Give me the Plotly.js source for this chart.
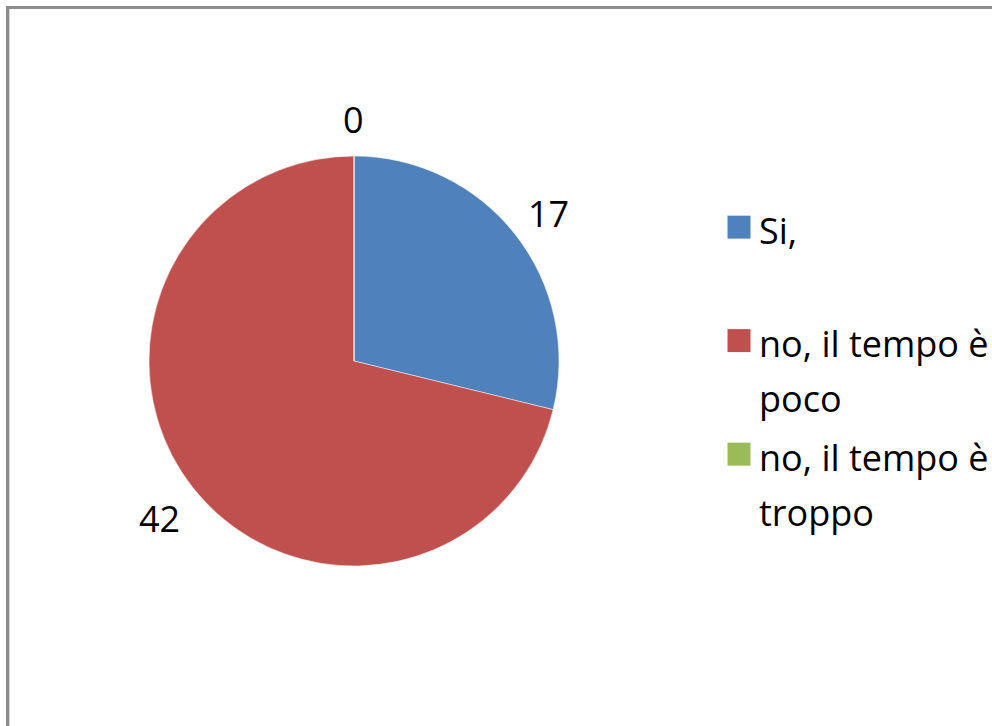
<!DOCTYPE html>
<html><head><meta charset="utf-8">
<script src="https://cdn.plot.ly/plotly-3.0.1.min.js"></script>
<style>html,body{margin:0;padding:0;background:#fff;} #chart{width:992px;height:726px;}</style>
</head><body><div id="chart"></div>
<script>
// ---- data ----
const categories = ["Si,", "no, il tempo è poco", "no, il tempo è troppo"];
const legendLines = [["Si,", " "], ["no, il tempo è", "poco"], ["no, il tempo è", "troppo"]];
const values = [17, 42, 0];
const colors = ["#4F81BD", "#C0504D", "#9BBB59"];

// ---- layout geometry ----
const W = 992, H = 726;
const cx = 354, cy = 361, r = 205;
const dom = {x: [(cx - r) / W, (cx + r) / W], y: [1 - (cy + r) / H, 1 - (cy - r) / H]};

const legendLabels = legendLines.map(lines => lines.map(s => '<span style="font-size:36px">' + s + '</span>').join('<br>'));

const total = values.reduce((a, b) => a + b, 0);
let cum = 0;
const annotations = values.map((v, i) => {
  const mid = (cum + v / 2) / total * 2 * Math.PI; cum += v;
  const d = r + 42;
  return {x: (cx + d * Math.sin(mid)) / W, y: 1 - (cy - d * Math.cos(mid)) / H,
    xref: 'paper', yref: 'paper', text: String(v), showarrow: false, yshift: -5,
    font: {family: 'Open Sans', size: 36, color: '#000'}, xanchor: 'center', yanchor: 'middle'};
});

const trace = {
  type: 'pie', labels: legendLabels, values: values, sort: false, direction: 'clockwise', rotation: 0,
  marker: {colors: colors, line: {color: '#ffffff', width: 0.5}},
  textinfo: 'none', hoverinfo: 'label+value', domain: dom
};

const layout = {
  width: W, height: H, margin: {l: 0, r: 0, t: 0, b: 0, autoexpand: false},
  paper_bgcolor: '#fff', plot_bgcolor: '#fff',
  showlegend: true,
  legend: {x: 719 / W, xanchor: 'left', y: 1 - 193 / H, yanchor: 'top', valign: 'top',
    font: {family: 'Open Sans', size: 42.5, color: '#000'}, bgcolor: 'rgba(0,0,0,0)', itemwidth: 30},
  annotations: annotations,
  shapes: [
    {type: 'line', xref: 'paper', yref: 'paper', x0: 7.5 / W, x1: 7.5 / W, y0: 0, y1: 1 - 6 / H, line: {color: '#8c8c8c', width: 3}},
    {type: 'line', xref: 'paper', yref: 'paper', x0: 6 / W, x1: 1, y0: 1 - 7.5 / H, y1: 1 - 7.5 / H, line: {color: '#8c8c8c', width: 3}},
    {type: 'line', xref: 'paper', yref: 'paper', x0: 9.5 / W, x1: 9.5 / W, y0: 0, y1: 1 - 9 / H, line: {color: '#d6d6d6', width: 1}}
  ]
};

function enlargeSymbols() {
  document.querySelectorAll('#chart path.legendpie').forEach(p => {
    const t = p.getAttribute('transform') || '';
    if (!/scale/.test(t)) p.setAttribute('transform', t + ' scale(2)');
  });
}
Plotly.newPlot('chart', [trace], layout, {displayModeBar: false, staticPlot: true}).then(gd => {
  enlargeSymbols();
  gd.on('plotly_afterplot', enlargeSymbols);
});
</script>
</body></html>
